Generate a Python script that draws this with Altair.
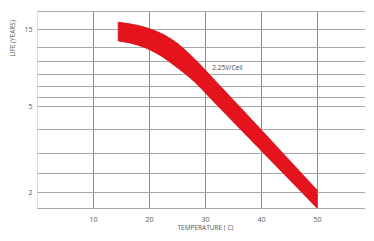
import altair as alt
import pandas as pd

# Band (life vs temperature)
band_temp = [14.5, 19, 22, 25, 28, 32, 50]
band_upper = [16.9, 15.6, 13.9, 11.1, 9.2, 7.35, 2.05]
band_lower = [11.7, 10.0, 9.4, 8.5, 7.4, 5.19, 1.5]

# Axis values
x_ticks = [10, 20, 30, 40, 50, 60]
y_grid = [1.5, 2, 2.5, 3, 4, 5, 6, 7, 8, 9, 10, 15, 20]
y_pos = [197, 181, 162, 142, 118, 95, 86, 75, 63, 50, 36, 18, 0]  # piecewise scale range
y_labels = [15, 5, 2]

annot_text = ["2.25V/Cell"]
annot_x = [31.3]
annot_y = [8.5]

band = pd.DataFrame({"t": band_temp, "hi": band_upper, "lo": band_lower})
annot = pd.DataFrame({"t": annot_x, "v": annot_y, "txt": annot_text})

FONT = "Open Sans"
label_expr = "indexof([" + ",".join(str(v) for v in y_labels) + "], datum.value) >= 0 ? datum.label : ''"

xscale = alt.Scale(domain=[0, 60], nice=False, zero=False)
yscale = alt.Scale(type="linear", domain=y_grid, range=y_pos, nice=False, zero=False, clamp=True)

xaxis = alt.Axis(values=x_ticks, grid=True, gridColor="#8a8a8a", gridWidth=1, ticks=False,
                 domain=False, labelFont=FONT, labelFontSize=7, labelColor="#555555",
                 labelPadding=7, title="TEMPERATURE ( C)", titleFont=FONT, titleFontSize=6.5,
                 titleFontWeight="normal", titleColor="#555555", titlePadding=2)
yaxis = alt.Axis(values=y_grid, grid=True, gridColor="#a8a8a8", gridWidth=1, ticks=False,
                 domain=False, labelExpr=label_expr, labelFont=FONT, labelFontSize=7,
                 labelColor="#555555", labelPadding=5, title="LIFE (YEARS)", titleFont=FONT,
                 titleFontSize=6.5, titleFontWeight="normal", titleColor="#555555",
                 titleAngle=270, titleX=-25, titleY=27, titleAlign="center",
                 titleBaseline="middle")

area = alt.Chart(band).mark_area(color="#e5131b", opacity=1, interpolate="monotone",
                                 stroke="#d01018", strokeWidth=0.8).encode(
    x=alt.X("t:Q", scale=xscale, axis=xaxis),
    y=alt.Y("hi:Q", scale=yscale, axis=yaxis),
    y2="lo:Q",
)

text = alt.Chart(annot).mark_text(align="left", baseline="middle", font=FONT, fontSize=6.5,
                                  color="#444444").encode(
    x=alt.X("t:Q", scale=xscale, axis=xaxis),
    y=alt.Y("v:Q", scale=yscale, axis=yaxis),
    text="txt:N",
)

chart = alt.layer(area, text).properties(
    width=336, height=197,
    autosize=alt.AutoSizeParams(type="none"),
    padding={"left": 29, "top": 3, "right": -8, "bottom": 23},
).configure_view(stroke="#9a9a9a", strokeWidth=1).configure(background="white")

chart.save("out.html", embed_options={"renderer": "svg", "actions": False})
